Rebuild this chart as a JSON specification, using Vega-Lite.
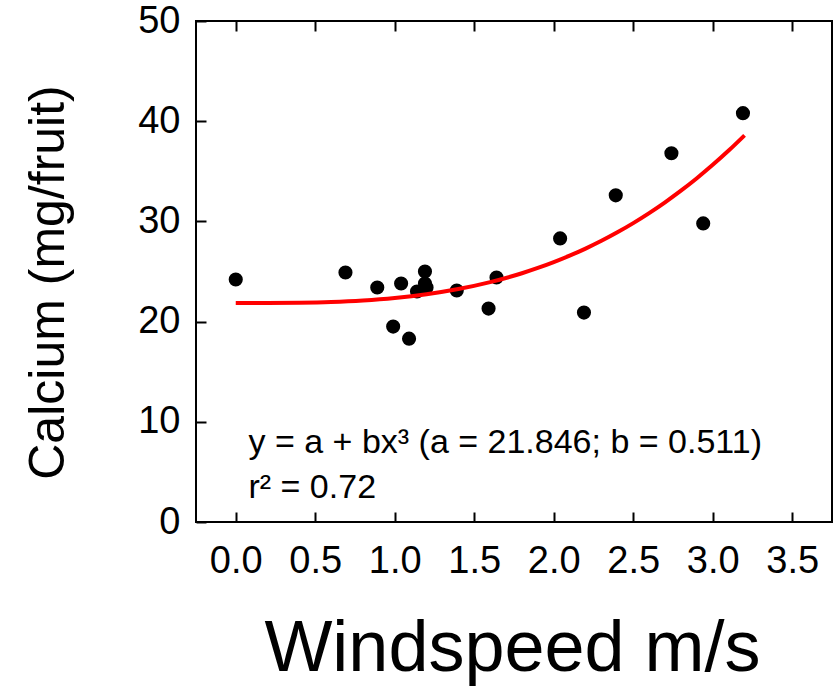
{
  "$schema": "https://vega.github.io/schema/vega-lite/v6.json",
  "width": 636,
  "height": 501,
  "autosize": {"type": "none"},
  "padding": {"left": 196, "top": 21, "right": 1, "bottom": 164},
  "background": "white",
  "config": {
    "font": "Liberation Sans",
    "view": {"stroke": "#000", "strokeWidth": 2},
    "axis": {
      "domain": false,
      "grid": false,
      "tickColor": "#000",
      "tickWidth": 2,
      "tickSize": -10,
      "labelColor": "#000",
      "labelFontSize": 38,
      "labelFlush": false,
      "labelOverlap": false,
      "titleColor": "#000",
      "titleFontWeight": "normal"
    }
  },
  "resolve": {"axis": {"x": "independent"}},
  "layer": [
    {
      "data": {
        "values": [
          {"windspeed": 0.0, "calcium": 24.2},
          {"windspeed": 0.69, "calcium": 24.9},
          {"windspeed": 0.89, "calcium": 23.4},
          {"windspeed": 0.99, "calcium": 19.5},
          {"windspeed": 1.04, "calcium": 23.8},
          {"windspeed": 1.09, "calcium": 18.3},
          {"windspeed": 1.14, "calcium": 23.0},
          {"windspeed": 1.19, "calcium": 25.0},
          {"windspeed": 1.19, "calcium": 23.8},
          {"windspeed": 1.2, "calcium": 23.4},
          {"windspeed": 1.39, "calcium": 23.1},
          {"windspeed": 1.59, "calcium": 21.3},
          {"windspeed": 1.64, "calcium": 24.4},
          {"windspeed": 2.04, "calcium": 28.3},
          {"windspeed": 2.19, "calcium": 20.9},
          {"windspeed": 2.39, "calcium": 32.6},
          {"windspeed": 2.74, "calcium": 36.8},
          {"windspeed": 2.94, "calcium": 29.8},
          {"windspeed": 3.19, "calcium": 40.8}
        ]
      },
      "mark": {"type": "circle", "size": 200, "color": "#000", "opacity": 1},
      "encoding": {
        "x": {
          "field": "windspeed",
          "type": "quantitative",
          "scale": {"domain": [-0.25, 3.75], "nice": false, "zero": false},
          "axis": {
            "orient": "bottom",
            "values": [0, 0.5, 1, 1.5, 2, 2.5, 3, 3.5],
            "format": ".1f",
            "labelPadding": 30,
            "title": "Windspeed m/s",
            "titleFontSize": 72,
            "titleX": 316,
            "titleY": 148,
            "titleBaseline": "alphabetic",
            "titleAlign": "center"
          }
        },
        "y": {
          "field": "calcium",
          "type": "quantitative",
          "scale": {"domain": [0, 50], "nice": false, "zero": false},
          "axis": {
            "values": [0, 10, 20, 30, 40, 50],
            "labelPadding": 26,
            "title": "Calcium (mg/fruit)",
            "titleFontSize": 50,
            "titleAngle": -90,
            "titleX": -133,
            "titleY": 261,
            "titleBaseline": "alphabetic",
            "titleAlign": "center"
          }
        }
      }
    },
    {
      "data": {
        "values": [
          {"windspeed": 0.0, "calcium": 21.846},
          {"windspeed": 0.2, "calcium": 21.85},
          {"windspeed": 0.4, "calcium": 21.879},
          {"windspeed": 0.6, "calcium": 21.956},
          {"windspeed": 0.8, "calcium": 22.108},
          {"windspeed": 1.0, "calcium": 22.357},
          {"windspeed": 1.2, "calcium": 22.729},
          {"windspeed": 1.4, "calcium": 23.248},
          {"windspeed": 1.6, "calcium": 23.939},
          {"windspeed": 1.8, "calcium": 24.826},
          {"windspeed": 1.9, "calcium": 25.351},
          {"windspeed": 2.0, "calcium": 25.934},
          {"windspeed": 2.1, "calcium": 26.578},
          {"windspeed": 2.2, "calcium": 27.287},
          {"windspeed": 2.3, "calcium": 28.063},
          {"windspeed": 2.4, "calcium": 28.91},
          {"windspeed": 2.5, "calcium": 29.83},
          {"windspeed": 2.6, "calcium": 30.827},
          {"windspeed": 2.7, "calcium": 31.904},
          {"windspeed": 2.8, "calcium": 33.063},
          {"windspeed": 2.9, "calcium": 34.309},
          {"windspeed": 3.0, "calcium": 35.643},
          {"windspeed": 3.1, "calcium": 37.069},
          {"windspeed": 3.2, "calcium": 38.59}
        ]
      },
      "mark": {"type": "line", "color": "#ff0000", "strokeWidth": 4, "interpolate": "monotone"},
      "encoding": {
        "x": {
          "field": "windspeed",
          "type": "quantitative",
          "axis": {
            "orient": "top",
            "values": [0, 0.5, 1, 1.5, 2, 2.5, 3, 3.5],
            "labels": false,
            "title": null
          }
        },
        "y": {"field": "calcium", "type": "quantitative"}
      }
    },
    {
      "data": {
        "values": [
          {"windspeed": 0.08, "calcium": 6.9, "label": "y = a + bx³ (a = 21.846; b = 0.511)"},
          {"windspeed": 0.08, "calcium": 2.4, "label": "r² = 0.72"}
        ]
      },
      "mark": {"type": "text", "align": "left", "baseline": "alphabetic", "fontSize": 34, "color": "#000"},
      "encoding": {
        "x": {"field": "windspeed", "type": "quantitative", "axis": null},
        "y": {"field": "calcium", "type": "quantitative"},
        "text": {"field": "label"}
      }
    }
  ]
}
